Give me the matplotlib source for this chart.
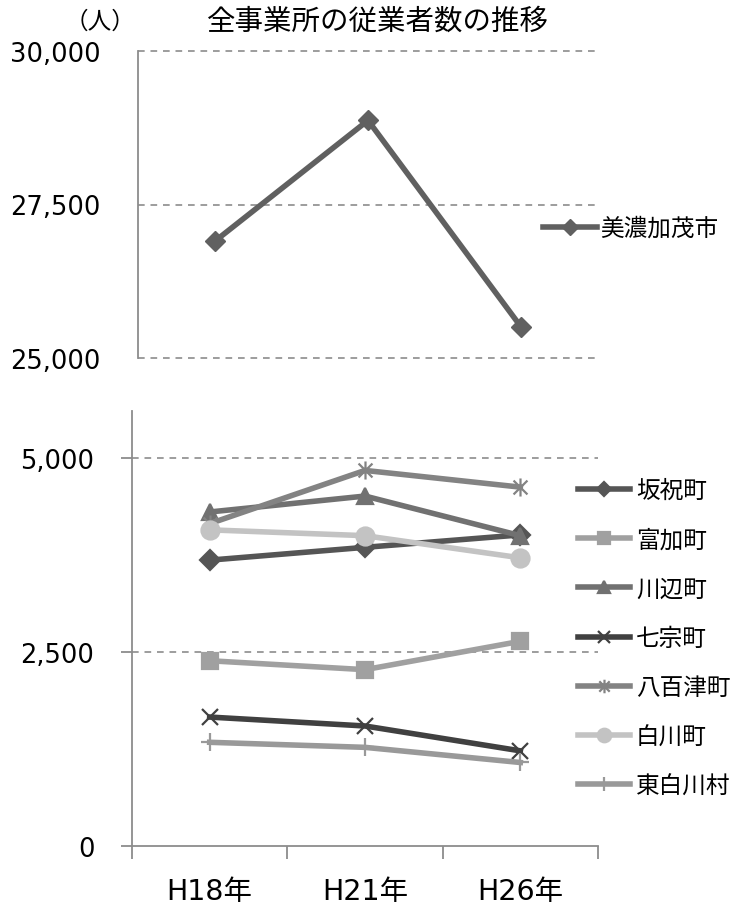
import matplotlib
matplotlib.use("Agg")
import matplotlib.pyplot as plt
from matplotlib.path import Path
from matplotlib.ticker import FuncFormatter

plt.rcParams["font.family"] = ["DejaVu Sans", "Noto Sans CJK JP"]

years = ["H18年", "H21年", "H26年"]

city_name = "美濃加茂市"
city_values = [26900, 28870, 25500]

town_names = ["坂祝町", "富加町", "川辺町", "七宗町", "八百津町", "白川町", "東白川村"]
sakahogi = [3680, 3845, 4005]
tomika = [2385, 2270, 2635]
kawabe = [4300, 4505, 3995]
hichiso = [1660, 1545, 1225]
yaotsu = [4150, 4835, 4620]
shirakawa = [4070, 3995, 3710]
higashishirakawa = [1335, 1270, 1075]
town_values = [sakahogi, tomika, kawabe, hichiso, yaotsu, shirakawa, higashishirakawa]

# Excel-style star marker: an X with a vertical bar
star = Path(
    [(-1, -1), (1, 1), (-1, 1), (1, -1), (0, -1.3), (0, 1.3)],
    [Path.MOVETO, Path.LINETO, Path.MOVETO, Path.LINETO, Path.MOVETO, Path.LINETO],
)

town_styles = [
    ("#555555", "D", 10),
    ("#a0a0a0", "s", 12),
    ("#717171", "^", 12),
    ("#404040", "x", 12),
    ("#838383", star, 13),
    ("#c3c3c3", "o", 13),
    ("#999999", "+", 13),
]

GRID = "#8c8c8c"
fmt = FuncFormatter(lambda v, p: f"{v:,.0f}")

fig = plt.figure(figsize=(7.47, 9.04), dpi=100)

# top panel: city
ax1 = fig.add_axes([138 / 747, 1 - 359 / 904, 460 / 747, 307 / 904])
x = list(range(len(years)))
city_line, = ax1.plot(x, city_values, color="#606060", lw=4, marker="D", ms=10,
                      label=city_name)
ax1.set_xlim(-0.5, 2.5)
ax1.set_ylim(25000, 30000)
ax1.set_yticks([25000, 27500, 30000])
ax1.yaxis.set_major_formatter(fmt)
ax1.set_xticks([])
for v in [25000, 27500, 30000]:
    ax1.axhline(v, color=GRID, lw=1.2, ls=(0, (4, 3.5)), clip_on=False, zorder=0)
for s in ["top", "right", "bottom"]:
    ax1.spines[s].set_visible(False)
ax1.spines["left"].set_color(GRID)
ax1.spines["left"].set_linewidth(1.3)
ax1.tick_params(axis="y", length=0, pad=27, labelsize=18.5)
fig.legend(handles=[city_line], loc="center left",
           bbox_to_anchor=(543 / 747, 1 - 229 / 904), frameon=False,
           fontsize=17, handlelength=2.3, handletextpad=0.1, borderpad=0,
           borderaxespad=0, markerscale=0.8)

fig.text(100 / 747, 1 - 22 / 904, "（人）", ha="center", va="center", fontsize=17)
fig.text(378 / 747, 1 - 22 / 904, "全事業所の従業者数の推移", ha="center", va="center", fontsize=20.5)

# bottom panel: towns
ax2 = fig.add_axes([132 / 747, 1 - 847 / 904, 466 / 747, 435 / 904])
town_lines = []
for name, vals, (col, mk, ms) in zip(town_names, town_values, town_styles):
    ln, = ax2.plot(x, vals, color=col, lw=4, marker=mk, ms=ms, mew=1.6,
                   mec=col, label=name)
    town_lines.append(ln)
ax2.set_xlim(-0.5, 2.5)
ax2.set_ylim(0, 5600)
ax2.set_yticks([0, 2500, 5000])
ax2.yaxis.set_major_formatter(fmt)
ax2.set_xticks(x)
ax2.set_xticklabels(years)
ax2.set_xticks([-0.5, 0.5, 1.5, 2.5], minor=True)
for v in [2500, 5000]:
    ax2.axhline(v, color=GRID, lw=1.2, ls=(0, (4, 3.5)), zorder=0)
for s in ["top", "right"]:
    ax2.spines[s].set_visible(False)
for s in ["left", "bottom"]:
    ax2.spines[s].set_color(GRID)
    ax2.spines[s].set_linewidth(1.3)
ax2.tick_params(axis="y", length=8, width=1.3, color=GRID, pad=19, labelsize=18.5)
ax2.tick_params(axis="x", which="major", length=0, pad=22, labelsize=20.5)
ax2.tick_params(axis="x", which="minor", length=9, width=1.3, color=GRID)
fig.legend(handles=town_lines, loc="upper left",
           bbox_to_anchor=(578 / 747, 1 - 479 / 904), frameon=False,
           fontsize=17, handlelength=2.2, handletextpad=0.25, labelspacing=1.07,
           borderpad=0, borderaxespad=0, markerscale=0.75)

fig.savefig("out.png", dpi=100)
